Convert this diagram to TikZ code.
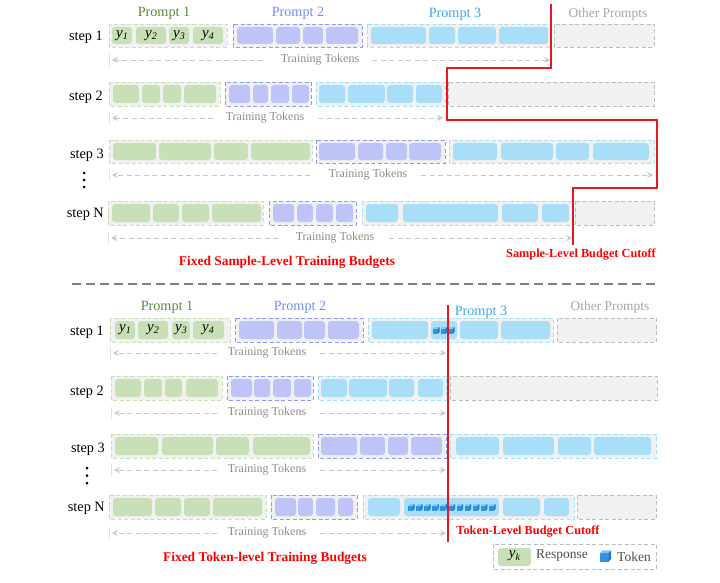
\documentclass[tikz,border=0pt]{standalone}
\usepackage{fontspec}
\setmainfont{Liberation Serif}
\usetikzlibrary{arrows.meta}
\definecolor{gcell}{HTML}{C8E0B6}
\definecolor{gedge}{HTML}{C6E2B4}
\definecolor{pcell}{HTML}{BEC4F8}
\definecolor{pedge}{HTML}{8F98F2}
\definecolor{ccell}{HTML}{A9DEF9}
\definecolor{cedge}{HTML}{9FE2F7}
\definecolor{obg}{HTML}{F1F1F1}
\definecolor{oedge}{HTML}{BDBDBD}
\definecolor{ttxt}{HTML}{8C8C8C}
\definecolor{tarr}{HTML}{C8C8C8}
\definecolor{cutred}{HTML}{E8161E}
\definecolor{lblred}{HTML}{FF0000}
\definecolor{pone}{HTML}{5A8A3A}
\definecolor{ptwo}{HTML}{6F8EF7}
\definecolor{pthree}{HTML}{39A6F7}
\definecolor{pother}{HTML}{A6A6A6}
\definecolor{tokfront}{HTML}{2F93E3}
\definecolor{toktop}{HTML}{7CC8F6}
\definecolor{tokside}{HTML}{1E78C4}
\tikzset{
  grp/.style={fill=obg, line width=0.9pt, dash pattern=on 4pt off 2.5pt},
  tarrow/.style={draw=tarr, line width=0.9pt, dash pattern=on 5pt off 3.5pt,
    -{Stealth[length=6pt,width=6pt,inset=2.5pt]}},
  tickline/.style={draw=black!12, line width=0.6pt},
  ttlabel/.style={text=ttxt, font=\fontsize{12}{14}\selectfont, inner sep=0pt},
  steplabel/.style={font=\fontsize{14.3}{16}\selectfont, anchor=east, inner sep=0pt},
  plabel/.style={font=\fontsize{14.2}{16}\selectfont, inner sep=0pt},
  ylabel/.style={font=\fontsize{15}{16}\selectfont, inner sep=0pt},
  redlabel/.style={text=lblred, font=\bfseries\fontsize{13.4}{15}\selectfont, inner sep=0pt},
  cutlabel/.style={text=lblred, font=\bfseries\fontsize{12.3}{14}\selectfont, inner sep=0pt},
  cutline/.style={draw=cutred, line width=1.4pt},
  tok/.pic={
    \fill[tokfront] (0,0) rectangle (1,1);
    \fill[toktop] (0,0) -- (0.3,-0.3) -- (1.3,-0.3) -- (1,0) -- cycle;
    \fill[tokside] (1,0) -- (1.3,-0.3) -- (1.3,0.7) -- (1,1) -- cycle;
  }
}
% response symbol y with subscript
\newcommand\ysym[1]{{\itshape y}\raisebox{-2.6pt}{\fontsize{10}{11}\selectfont\itshape #1}}
% group box: x1 y1 x2 y2 colour
\newcommand\grp[5]{\draw[grp,draw=#5] (#1,#2) rectangle (#3,#4);}
% cells: y1 y2 colour list
\newcommand\cells[4]{\foreach \a/\b in {#4} {\fill[#3,rounded corners=3pt] (\a,#1) rectangle (\b,#2);}}
% training-tokens arrow: name, y, tick x, left seg end, text x, right seg start, right end
\newcommand\trainarrow[7]{%
  \coordinate (#1L) at (#3+3,#2);
  \coordinate (#1A) at (#4,#2);
  \node[ttlabel] (#1T) at (#5,#2) {Training Tokens};
  \coordinate (#1B) at (#6,#2);
  \coordinate (#1R) at (#7,#2);
  \draw[tickline] (#3,#2-6) -- (#3,#2+6);
  \draw[tarrow] (#1A) -- (#1L);
  \draw[tarrow] (#1B) -- (#1R);
}
\begin{document}
\begin{tikzpicture}[x=1pt,y=-1pt]
\useasboundingbox (0,0) rectangle (720,583);

%================ TOP HALF ================
\node[plabel,text=pone]   (tp1) at (164,13) {Prompt 1};
\node[plabel,text=ptwo]   (tp2) at (298,13) {Prompt 2};
\node[plabel,text=pthree] (tp3) at (455,14) {Prompt 3};
\node[plabel,text=pother,font=\fontsize{13.4}{15}\selectfont] (tpo) at (608,14) {Other Prompts};

% step 1
\node[steplabel] (ts1) at (103,37) {step 1};
\grp{109}{24}{227}{47}{gedge}
\cells{27}{44}{gcell}{112/132,136/166,169/189,193/223}
\node[ylabel] (ty1) at (122,35.5) {\ysym{1}};
\node[ylabel] (ty2) at (151,35.5) {\ysym{2}};
\node[ylabel] (ty3) at (179,35.5) {\ysym{3}};
\node[ylabel] (ty4) at (208,35.5) {\ysym{4}};
\grp{233}{24}{362}{47}{pedge}
\cells{27}{44}{pcell}{237/273,276/300,303/323,326/358}
\grp{367}{24}{551}{47}{cedge}
\cells{27}{44}{ccell}{371/426,429/455,458/496,499/548}
\grp{554}{24}{654}{47}{oedge}
\trainarrow{ta1}{60}{109}{263}{320}{372}{550}

% step 2
\node[steplabel] (ts2) at (103,97) {step 2};
\grp{109}{82}{220}{106}{gedge}
\cells{85}{103}{gcell}{113/139,142/160,163/181,184/216}
\grp{225}{82}{311}{106}{pedge}
\cells{85}{103}{pcell}{229/250,253/268,271/289,292/309}
\grp{316}{82}{445}{106}{cedge}
\cells{85}{103}{ccell}{319/345,348/385,387/413,416/442}
\grp{448}{82}{654}{106}{oedge}
\trainarrow{ta2}{118}{109}{213}{265}{318}{443}

% step 3
\node[steplabel] (ts3) at (104,155) {step 3};
\grp{109}{140}{312}{163}{gedge}
\cells{143}{160}{gcell}{113/156,159/211,214/248,251/310}
\grp{316}{140}{445}{163}{pedge}
\cells{143}{160}{pcell}{319/355,358/383,386/407,409/441}
\grp{449}{140}{654}{163}{cedge}
\cells{143}{160}{ccell}{453/497,501/553,556/589,593/649}
\trainarrow{ta3}{175}{109}{310}{368}{421}{653}
\foreach \yy [count=\i] in {173,180,187} {\fill (84,\yy) circle (1.5pt) coordinate (tdot\i);}

% step N
\node[steplabel] (tsN) at (104,214) {step N};
\grp{108}{201}{263}{225}{gedge}
\cells{204}{222}{gcell}{112/150,153/179,182/209,212/261}
\grp{269}{201}{356}{225}{pedge}
\cells{204}{222}{pcell}{273/294,297/313,316/333,336/353}
\grp{362}{201}{573}{225}{cedge}
\cells{204}{222}{ccell}{366/398,403/498,502/538,542/569}
\grp{575}{201}{654}{225}{oedge}
\trainarrow{taN}{238}{108}{278}{335}{389}{572}

% sample-level cutoff
\coordinate (sc0) at (551,4);
\coordinate (sc1) at (551,68);
\coordinate (sc2) at (447,68);
\coordinate (sc3) at (447,120);
\coordinate (sc4) at (657,120);
\coordinate (sc5) at (657,188);
\coordinate (sc6) at (573,188);
\coordinate (sc7) at (573,245);
\draw[cutline] (sc0) -- (sc1) -- (sc2) -- (sc3) -- (sc4) -- (sc5) -- (sc6) -- (sc7);
\node[cutlabel] (sclbl) at (581,255) {Sample-Level Budget Cutoff};
\node[redlabel] (sfixed) at (287,262) {Fixed Sample-Level Training Budgets};

% separator
\coordinate (sepL) at (72,284);
\coordinate (sepR) at (657,284);
\draw[draw=black!50, line width=1.6pt, dash pattern=on 9pt off 5pt] (sepL) -- (sepR);

%================ BOTTOM HALF ================
\node[plabel,text=pone]   (bp1) at (167,307) {Prompt 1};
\node[plabel,text=ptwo]   (bp2) at (300,307) {Prompt 2};
\node[plabel,text=pthree] (bp3) at (481,312) {Prompt 3};
\node[plabel,text=pother,font=\fontsize{13.4}{15}\selectfont] (bpo) at (610,307) {Other Prompts};

% step 1
\node[steplabel] (bs1) at (104,332) {step 1};
\grp{110}{318}{230}{342}{gedge}
\cells{321}{339}{gcell}{115/135,138/168,172/190,193/224}
\node[ylabel] (by1) at (125,329.5) {\ysym{1}};
\node[ylabel] (by2) at (153,329.5) {\ysym{2}};
\node[ylabel] (by3) at (181,329.5) {\ysym{3}};
\node[ylabel] (by4) at (208,329.5) {\ysym{4}};
\grp{235}{318}{363}{342}{pedge}
\cells{321}{339}{pcell}{239/274,277/302,304/325,328/359}
\grp{368}{318}{553}{342}{cedge}
\cells{321}{339}{ccell}{372/428,431/457,460/498,501/550}
\foreach \xx in {433,440.5,448} {\pic[scale=5] at (\xx,328.5) {tok};}
\grp{557}{318}{656}{342}{oedge}
\trainarrow{ba1}{353}{110}{217}{267}{320}{446}

% step 2
\node[steplabel] (bs2) at (104,392) {step 2};
\grp{111}{376}{222}{400}{gedge}
\cells{379}{397}{gcell}{115/141,144/162,165/182,186/218}
\grp{227}{376}{313}{400}{pedge}
\cells{379}{397}{pcell}{231/252,254/270,273/291,294/311}
\grp{318}{376}{446}{400}{cedge}
\cells{379}{397}{ccell}{321/347,349/387,389/414,418/443}
\grp{450}{376}{657}{400}{oedge}
\trainarrow{ba2}{413}{111}{217}{267}{320}{446}

% step 3
\node[steplabel] (bs3) at (105,449) {step 3};
\grp{111}{434}{313}{458}{gedge}
\cells{437}{455}{gcell}{115/158,162/213,216/249,253/310}
\grp{318}{434}{446}{458}{pedge}
\cells{437}{455}{pcell}{321/357,360/385,388/408,411/442}
\grp{450}{434}{656}{458}{cedge}
\cells{437}{455}{ccell}{456/499,503/554,558/591,594/651}
\trainarrow{ba3}{470}{111}{217}{267}{320}{446}
\foreach \yy [count=\i] in {468,475.5,483} {\fill (87,\yy) circle (1.5pt) coordinate (bdot\i);}

% step N
\node[steplabel] (bsN) at (105,508) {step N};
\grp{109}{495}{266}{519}{gedge}
\cells{498}{516}{gcell}{113/152,155/181,184/210,213/262}
\grp{271}{495}{357}{519}{pedge}
\cells{498}{516}{pcell}{275/296,298/313,316/335,338/353}
\grp{363}{495}{574}{519}{cedge}
\cells{498}{516}{ccell}{368/400,404/499,503/540,544/569}
\foreach \k in {0,...,10} {\pic[scale=5] at (408+8.1*\k,505.5) {tok};}
\grp{577}{495}{656}{519}{oedge}
\trainarrow{baN}{533}{109}{217}{267}{320}{446}

% token-level cutoff
\coordinate (tc0) at (448,305);
\coordinate (tc1) at (448,542);
\draw[cutline] (tc0) -- (tc1);
\node[cutlabel] (tclbl) at (528,532) {Token-Level Budget Cutoff};
\node[redlabel] (tfixed) at (265,558) {Fixed Token-level Training Budgets};

% legend
\draw[draw=oedge, line width=0.9pt, dash pattern=on 4pt off 2.5pt] (493,544) rectangle (656,569);
\fill[gcell,rounded corners=3pt] (498,548) rectangle (531,566);
\node[ylabel] (lgy) at (514.5,556) {\ysym{k}};
\node[font=\fontsize{13.5}{15}\selectfont, text=black!70, inner sep=0pt] (lgr) at (562,556) {Response};
\pic[scale=8.5] at (600,553) {tok};
\node[font=\fontsize{13.5}{15}\selectfont, text=black!70, inner sep=0pt] (lgt) at (634,557) {Token};
\end{tikzpicture}
\end{document}
